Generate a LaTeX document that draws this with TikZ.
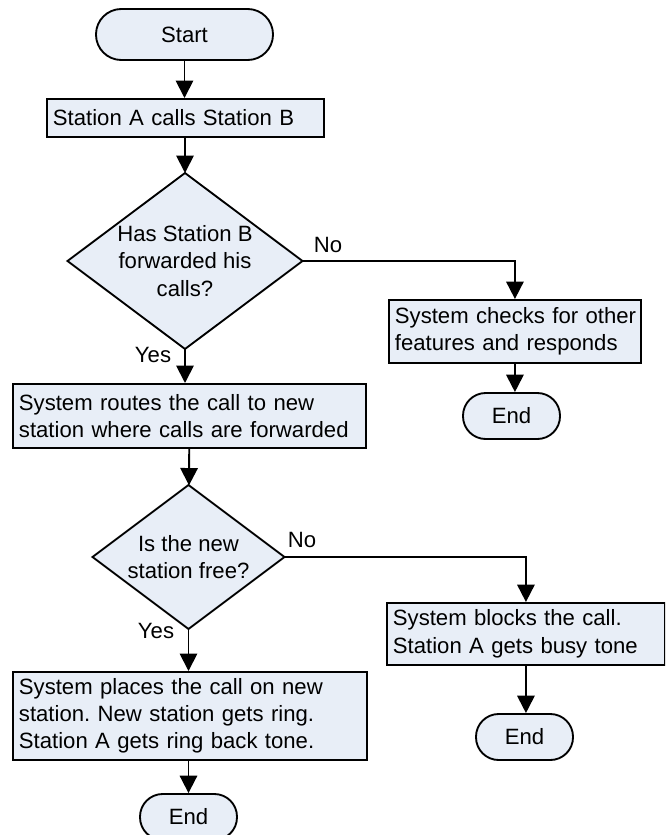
\documentclass[tikz,border=0pt]{standalone}
\usepackage{fontspec}
\setmainfont{Liberation Sans}
\usetikzlibrary{shapes.geometric,arrows.meta}
\definecolor{boxfill}{RGB}{232,238,247}
\frenchspacing
\begin{document}
\begin{tikzpicture}[x=0.75pt,y=-0.75pt,
  font=\fontsize{16.6pt}{20.5pt}\selectfont,
  flow/.style={line width=1.4pt},
  arr/.style={flow,-{Triangle[length=13pt,width=13pt]}},
  term/.style={draw,flow,fill=boxfill,rectangle,inner sep=0pt},
  procbox/.style={draw,flow,fill=boxfill,rectangle,anchor=north west,
    inner xsep=4.5pt,inner ysep=0pt,align=left},
  decide/.style={draw,flow,fill=boxfill,diamond,inner sep=0pt,outer sep=0pt},
  lbl/.style={inner sep=0pt}]
\useasboundingbox (0,0) rectangle (665,835);
\clip (0,0) rectangle (665,835);

% start / end terminators
\node[term,minimum width=132.75pt,minimum height=38.25pt,rounded corners=19pt]
  (start) at (184.5,34.5) {Start};
\node[term,minimum width=72.75pt,minimum height=34.5pt,rounded corners=17pt]
  (end1) at (511.5,416) {End};
\node[term,minimum width=72.75pt,minimum height=34.5pt,rounded corners=17pt]
  (end2) at (524.5,737) {End};
\node[term,minimum width=72.75pt,minimum height=34.5pt,rounded corners=17pt]
  (end3) at (188.5,817) {End};

% process boxes
\node[procbox,minimum width=207.75pt,minimum height=28.5pt,text width=198.75pt]
  (call) at (46,98) {\mbox{Station A calls Station B}};
\node[procbox,minimum width=189pt,minimum height=47.25pt,text width=180pt]
  (check) at (388,299) {\mbox{System checks for other}\\\mbox{features and responds}};
\node[procbox,minimum width=264.75pt,minimum height=48pt,text width=255.75pt]
  (route) at (12,383) {\mbox{System routes the call to new}\\\mbox{station where calls are forwarded}};
\node[procbox,minimum width=208.5pt,minimum height=46.5pt,text width=199.5pt]
  (block) at (386,602) {\mbox{System blocks the call.}\\\mbox{Station A gets busy tone}};
\node[procbox,minimum width=265.5pt,minimum height=66pt,text width=256.5pt]
  (place) at (12,671) {\mbox{System places the call on new}\\\mbox{station. New station gets ring.}\\\mbox{Station A gets ring back tone.}};

% decisions
\node[decide,minimum width=176.25pt,minimum height=132pt] (fwd) at (185,261) {};
\node[lbl,align=center] (fwdtext) at (fwd.center) {Has Station B\\forwarded his\\calls?};
\node[decide,minimum width=144pt,minimum height=108pt] (free) at (188.5,557) {};
\node[lbl,align=center] (freetext) at (free.center) {Is the new\\station free?};
\coordinate (fwdtop) at (185,173);

% branch labels
\node[lbl] (no1) at (328,245) {No};
\node[lbl] (yes1) at (153,355) {Yes};
\node[lbl] (no2) at (302,540) {No};
\node[lbl] (yes2) at (156,631) {Yes};

% connectors
\draw[arr] (start.south) -- (start.south |- call.north);
\draw[arr] (call.south -| fwdtop) -- (fwdtop);
\draw[arr] (fwd.east) -| (check.north);
\draw[arr] (check.south) -- (check.south |- end1.north);
\draw[arr] (fwd.south) -- (fwd.south |- route.north);
\draw[arr] (route) -- (free);
\draw[arr] (free.east) -| (block.north);
\draw[arr] (block.south) -- (block.south |- end2.north);
\draw[arr] (free.south) -- (free.south |- place.north);
\draw[arr] (place.south -| end3.north) -- (end3.north);
\end{tikzpicture}
\end{document}
